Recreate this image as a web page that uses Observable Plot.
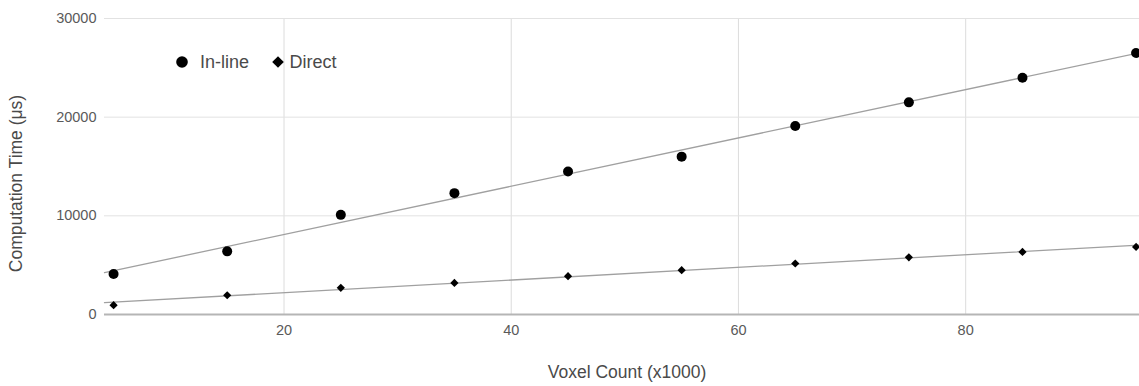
<!DOCTYPE html>
<html><head><meta charset="utf-8">
<script src="https://cdn.jsdelivr.net/npm/d3@7"></script>
<script src="https://cdn.jsdelivr.net/npm/@observablehq/plot@0.6"></script>
<style>
body{margin:0;background:#fff;font-family:"Liberation Sans",Arial,sans-serif;}
#wrap{position:relative;width:1139px;height:386px;}
.lg{position:absolute;font-size:18px;color:#4a4a4a;line-height:1;transform:translateY(-50%);white-space:nowrap;}
</style></head><body><div id="wrap"></div>
<script>
const voxelCount = [5,15,25,35,45,55,65,75,85,95];
const inlineTime = [4100,6400,10100,12300,14500,16000,19100,21500,24000,26500];
const directTime = [950,1950,2700,3200,3880,4490,5170,5800,6340,6850];
const xTicks = [20,40,60,80];
const yTicks = [0,10000,20000,30000];
const seriesNames = ["In-line","Direct"];
const xLabel = "Voxel Count (x1000)";
const yLabel = "Computation Time (μs)";

const xDomain = [4.2, 95.3];

function fit(xs, ys) {
  const mx = d3.mean(xs), my = d3.mean(ys);
  const sxy = d3.sum(xs, (x,i) => (x-mx)*(ys[i]-my));
  const sxx = d3.sum(xs, x => (x-mx)**2);
  const b = sxy/sxx, a = my - b*mx;
  return xDomain.map(x => ({x, y: a + b*x}));
}
const inlineRows = voxelCount.map((x,i)=>({x, y: inlineTime[i]}));
const directRows = voxelCount.map((x,i)=>({x, y: directTime[i]}));

const chart = Plot.plot({
  width:1139, height:386, marginLeft:104, marginRight:0, marginTop:18, marginBottom:72,
  style:{fontFamily:'"Liberation Sans",Arial,sans-serif', fontSize:"14.5px", color:"#555", background:"white"},
  x:{domain:xDomain},
  y:{domain:[0,30000]},
  marks:[
    Plot.gridX(xTicks,{stroke:"#dcdcdc", strokeOpacity:1}),
    Plot.gridY(yTicks.filter(d=>d>0),{stroke:"#e2e2e2", strokeOpacity:1}),
    Plot.ruleY([0],{stroke:"#b5b5b5", strokeWidth:2}),
    Plot.axisX(xTicks,{tickSize:0, tickPadding:10, label:null, fill:"#5a5a5a"}),
    Plot.axisY(yTicks,{tickSize:0, tickPadding:8, label:null, fill:"#5a5a5a", tickFormat:d=>String(d)}),
    Plot.line(fit(voxelCount, inlineTime),{x:"x", y:"y", stroke:"#a0a0a0", strokeWidth:1.3}),
    Plot.line(fit(voxelCount, directTime),{x:"x", y:"y", stroke:"#a0a0a0", strokeWidth:1.3}),
    Plot.dot(inlineRows,{x:"x", y:"y", r:5, fill:"black", symbol:"circle", clip:true}),
    Plot.dot(directRows,{x:"x", y:"y", r:3.7, fill:"black", symbol:"diamond2", clip:true}),
    Plot.text([xLabel],{frameAnchor:"bottom", dx:5, dy:63, fontSize:17.5, fill:"#4a4a4a", text:d=>d}),
    Plot.text([yLabel],{frameAnchor:"left", textAnchor:"middle", dx:-88, dy:17, rotate:-90, fontSize:17.5, fill:"#4a4a4a", text:d=>d})
  ]
});
const wrap = document.getElementById("wrap");
wrap.appendChild(chart);

// legend
const items = [
  {name: seriesNames[0], cx:181.7, tx:200, svg:'<circle cx="0" cy="0" r="5.8" fill="black"/>'},
  {name: seriesNames[1], cx:278.3, tx:289.5, svg:'<path d="M0,-5.8L5.8,0L0,5.8L-5.8,0Z" fill="black"/>'}
];
for (const it of items) {
  const s = document.createElementNS("http://www.w3.org/2000/svg","svg");
  s.setAttribute("width","1");s.setAttribute("height","1");
  s.style.position="absolute"; s.style.left=it.cx+"px"; s.style.top="62.3px"; s.style.overflow="visible";
  s.innerHTML = it.svg;
  wrap.appendChild(s);
  const t = document.createElement("div");
  t.className="lg"; t.style.left=it.tx+"px"; t.style.top="62.3px"; t.textContent=it.name;
  wrap.appendChild(t);
}
</script></body></html>
